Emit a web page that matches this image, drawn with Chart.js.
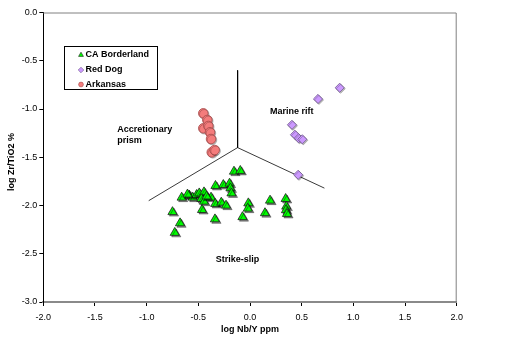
<!DOCTYPE html>
<html>
<head>
<meta charset="utf-8">
<title>log Zr/TiO2 vs log Nb/Y</title>
<script src="https://cdn.jsdelivr.net/npm/chart.js@4.4.1/dist/chart.umd.min.js"></script>
<style>
  html, body { margin: 0; padding: 0; background: #ffffff; }
  #wrap { position: relative; width: 506px; height: 343px; }
</style>
</head>
<body>
<div id="wrap"><canvas id="chart" width="506" height="343"></canvas></div>
<script>
// ---- data -------------------------------------------------------------
const seriesNames = ['CA Borderland', 'Red Dog', 'Arkansas'];

// log Nb/Y ppm (x) and log Zr/TiO2 % (y) for each group
const caBorderlandNbY = [-0.155, -0.094, -0.334, -0.258, -0.198, -0.189, -0.179, -0.661, -0.587,
  -0.554, -0.516, -0.491, -0.445, -0.471, -0.445, -0.377, -0.336, -0.278, -0.232, -0.464, -0.750,
  -0.677, -0.728, -0.339, -0.016, -0.021, -0.073, 0.194, 0.145, 0.345, 0.351, 0.348, 0.358,
  -0.605, -0.420];
const caBorderlandZrTi = [-1.648, -1.640, -1.796, -1.786, -1.772, -1.821, -1.873, -1.917, -1.896,
  -1.917, -1.889, -1.873, -1.862, -1.931, -1.959, -1.917, -1.982, -1.969, -2.000, -2.045, -2.067,
  -2.183, -2.282, -2.142, -1.976, -2.031, -2.119, -1.948, -2.078, -1.931, -2.010, -2.047, -2.086,
  -1.885, -1.905];

const redDogNbY = [0.868, 0.658, 0.406, 0.435, 0.471, 0.506, 0.466];
const redDogZrTi = [-0.780, -0.896, -1.164, -1.267, -1.304, -1.314, -1.682];

const arkansasNbY = [-0.452, -0.413, -0.452, -0.403, -0.387, -0.377, -0.370, -0.342];
const arkansasZrTi = [-1.045, -1.114, -1.200, -1.176, -1.241, -1.311, -1.449, -1.425];

// tectonic field boundaries
const boundaryStemNbY = [-0.12, -0.12];
const boundaryStemZrTi = [-0.6, -1.4];
const boundaryBaseNbY = [-0.98, -0.12, 0.72];
const boundaryBaseZrTi = [-1.95, -1.4, -1.82];

// axes
const xTickValues = [-2.0, -1.5, -1.0, -0.5, 0.0, 0.5, 1.0, 1.5, 2.0];
const yTickValues = [0.0, -0.5, -1.0, -1.5, -2.0, -2.5, -3.0];
const xAxisTitle = 'log Nb/Y ppm';
const yAxisTitle = 'log Zr/TiO2 %';

// field names
const fieldNames = ['Accretionary', 'prism', 'Marine rift', 'Strike-slip'];

// ---- helpers ------------------------------------------------------------
const toPoints = (xs, ys) => xs.map((x, i) => ({ x: x, y: ys[i] }));
const FONT = "'Liberation Sans', Arial, Helvetica, sans-serif";

const markerStyles = [
  { pointStyle: 'triangle', radius: 5.3, fill: '#00ff00', stroke: '#1c1c1c', width: 0.8,
    shadow: { color: 'rgba(0,0,0,0.45)', dx: 1.5, dy: 1.5 } },
  { pointStyle: 'rectRot', radius: 4.6, fill: '#cc99ff', stroke: '#6f5a8a', width: 0.8,
    shadow: { color: 'rgba(0,0,0,0.25)', dx: 1, dy: 1 } },
  { pointStyle: 'circle', radius: 4.8, fill: '#f47c7c', stroke: '#a44848', width: 0.8,
    shadow: { color: 'rgba(0,0,0,0.25)', dx: 1, dy: 1 } }
];

function markerDataset(label, pts, st) {
  return {
    label: label,
    data: pts,
    showLine: false,
    pointStyle: st.pointStyle,
    pointRadius: st.radius,
    pointHoverRadius: st.radius,
    pointBackgroundColor: st.fill,
    pointBorderColor: st.stroke,
    pointBorderWidth: st.width,
    backgroundColor: st.fill,
    borderColor: st.stroke,
    shadow: st.shadow,
    order: 0
  };
}

function boundaryDataset(pts, color) {
  return {
    label: '',
    data: pts,
    showLine: true,
    fill: false,
    borderColor: color,
    borderWidth: 1,
    pointRadius: 0,
    pointHoverRadius: 0,
    tension: 0,
    order: 1
  };
}

// drop shadow under markers
const markerShadow = {
  id: 'markerShadow',
  beforeDatasetDraw(chart, args) {
    const ds = chart.data.datasets[args.index];
    if (!ds.shadow) return;
    const ctx = chart.ctx;
    ctx.save();
    ctx.shadowColor = ds.shadow.color;
    ctx.shadowOffsetX = ds.shadow.dx;
    ctx.shadowOffsetY = ds.shadow.dy;
    ctx.shadowBlur = 0;
  },
  afterDatasetDraw(chart, args) {
    const ds = chart.data.datasets[args.index];
    if (ds.shadow) chart.ctx.restore();
  }
};

// plot frame, axis titles, field names and legend box
function drawMarker(ctx, style, x, y, r) {
  ctx.beginPath();
  if (style === 'triangle') {
    ctx.moveTo(x, y - r);
    ctx.lineTo(x + 0.866 * r, y + 0.5 * r);
    ctx.lineTo(x - 0.866 * r, y + 0.5 * r);
    ctx.closePath();
  } else if (style === 'rectRot') {
    ctx.moveTo(x, y - r);
    ctx.lineTo(x + r, y);
    ctx.lineTo(x, y + r);
    ctx.lineTo(x - r, y);
    ctx.closePath();
  } else {
    ctx.arc(x, y, r, 0, Math.PI * 2);
  }
  ctx.fill();
  ctx.stroke();
}

const decorations = {
  id: 'decorations',
  beforeDatasetsDraw(chart) {
    const { ctx, chartArea: a } = chart;
    ctx.save();
    ctx.strokeStyle = '#808080';
    ctx.lineWidth = 1;
    ctx.beginPath();
    ctx.moveTo(a.left, a.top + 0.5);
    ctx.lineTo(a.right - 0.5, a.top + 0.5);
    ctx.lineTo(a.right - 0.5, a.bottom);
    ctx.stroke();
    ctx.restore();
  },
  afterDraw(chart) {
    const { ctx, chartArea: a, scales } = chart;
    const xs = scales.x, ys = scales.y;
    ctx.save();
    ctx.fillStyle = '#000000';
    ctx.font = 'bold 9px ' + FONT;

    // axis titles
    ctx.textAlign = 'center';
    ctx.textBaseline = 'middle';
    ctx.fillText(xAxisTitle, (a.left + a.right) / 2, 329.5);
    ctx.save();
    ctx.translate(12, 162);
    ctx.rotate(-Math.PI / 2);
    ctx.fillText(yAxisTitle, 0, 0);
    ctx.restore();

    // field names
    ctx.textAlign = 'left';
    ctx.fillText(fieldNames[0], xs.getPixelForValue(-1.284), ys.getPixelForValue(-1.212));
    ctx.fillText(fieldNames[1], xs.getPixelForValue(-1.284), ys.getPixelForValue(-1.322));
    ctx.fillText(fieldNames[2], xs.getPixelForValue(0.194), ys.getPixelForValue(-1.028));
    ctx.fillText(fieldNames[3], xs.getPixelForValue(-0.332), ys.getPixelForValue(-2.558));

    // legend
    const box = { x: 64.5, y: 46.5, w: 93, h: 43 };
    ctx.fillStyle = '#ffffff';
    ctx.fillRect(box.x, box.y, box.w, box.h);
    ctx.strokeStyle = '#000000';
    ctx.lineWidth = 1;
    ctx.strokeRect(box.x, box.y, box.w, box.h);
    const rows = [55, 70, 84.5];
    seriesNames.forEach((name, i) => {
      const st = markerStyles[i];
      ctx.fillStyle = st.fill;
      ctx.strokeStyle = st.stroke;
      ctx.lineWidth = 0.6;
      drawMarker(ctx, st.pointStyle, 81, rows[i], st.pointStyle === 'circle' ? 2.4 : 2.8);
      ctx.fillStyle = '#000000';
      ctx.fillText(name, 85.5, rows[i]);
    });
    ctx.restore();
  }
};

// ---- chart ----------------------------------------------------------------
const tickFont = { family: FONT, size: 9 };

new Chart(document.getElementById('chart'), {
  type: 'scatter',
  data: {
    datasets: [
      markerDataset(seriesNames[0], toPoints(caBorderlandNbY, caBorderlandZrTi), markerStyles[0]),
      markerDataset(seriesNames[1], toPoints(redDogNbY, redDogZrTi), markerStyles[1]),
      markerDataset(seriesNames[2], toPoints(arkansasNbY, arkansasZrTi), markerStyles[2]),
      boundaryDataset(toPoints(boundaryStemNbY, boundaryStemZrTi), '#000000'),
      boundaryDataset(toPoints(boundaryBaseNbY, boundaryBaseZrTi), '#3a3a3a')
    ]
  },
  options: {
    responsive: false,
    animation: false,
    devicePixelRatio: 1,
    layout: { padding: { left: 0, right: 49.3, top: 12.5, bottom: 0 } },
    plugins: {
      legend: { display: false },
      tooltip: { enabled: false },
      title: { display: false }
    },
    scales: {
      x: {
        type: 'linear',
        min: -2,
        max: 2,
        afterBuildTicks: (s) => { s.ticks = xTickValues.map(v => ({ value: v })); },
        afterFit: (s) => { s.height = 41; },
        ticks: {
          color: '#000000',
          font: tickFont,
          padding: 6,
          maxRotation: 0,
          autoSkip: false,
          callback: (v) => Number(v).toFixed(1)
        },
        grid: { drawOnChartArea: false, drawTicks: true, tickLength: 4, tickColor: '#000000' },
        border: { display: true, color: '#8a8a8a', width: 2 },
        title: { display: false }
      },
      y: {
        type: 'linear',
        min: -3,
        max: 0,
        afterBuildTicks: (s) => { s.ticks = yTickValues.map(v => ({ value: v })); },
        afterFit: (s) => { s.width = 43.3; },
        ticks: {
          color: '#000000',
          font: tickFont,
          padding: 2,
          autoSkip: false,
          callback: (v) => Number(v).toFixed(1)
        },
        grid: { drawOnChartArea: false, drawTicks: true, tickLength: 4, tickColor: '#000000' },
        border: { display: true, color: '#000000', width: 1 },
        title: { display: false }
      }
    }
  },
  plugins: [markerShadow, decorations]
});
</script>
</body>
</html>
